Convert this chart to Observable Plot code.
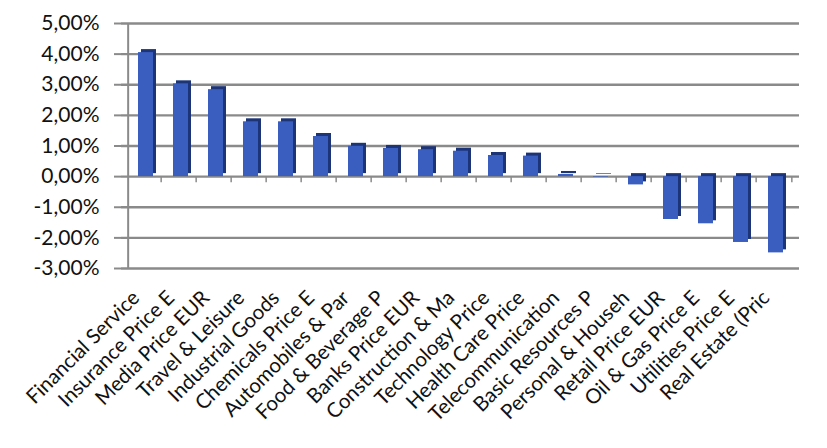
<!DOCTYPE html>
<html>
<head>
<meta charset="utf-8">
<script src="https://cdn.jsdelivr.net/npm/d3@7"></script>
<script src="https://cdn.jsdelivr.net/npm/@observablehq/plot@0.6"></script>
<style>
  html, body { margin: 0; padding: 0; background: #ffffff; }
  #chart svg { display: block; }
</style>
</head>
<body>
<div id="chart"></div>
<script>
const categories = [
  "Financial Service", "Insurance Price E", "Media Price EUR", "Travel & Leisure",
  "Industrial Goods", "Chemicals Price E", "Automobiles & Par", "Food & Beverage P",
  "Banks Price EUR", "Construction & Ma", "Technology Price", "Health Care Price",
  "Telecommunication", "Basic Resources P", "Personal & Househ", "Retail Price EUR",
  "Oil & Gas Price E", "Utilities Price E", "Real Estate (Pric"
];
const values = [
  0.0405, 0.0303, 0.0284, 0.0179, 0.0179, 0.0131, 0.0099, 0.0092,
  0.0088, 0.0083, 0.0069, 0.0067, 0.0007, -0.0002, -0.0027, -0.0140,
  -0.0154, -0.0215, -0.0249
];
const yTicks = [-0.03, -0.02, -0.01, 0, 0.01, 0.02, 0.03, 0.04, 0.05];

const data = categories.map((c, i) => ({category: c, value: values[i]}));

const W = 827, H = 448;
const mL = 121, mR = 28, mT = 23, mB = 180;
const step = (W - mL - mR) / categories.length;

const locale = d3.formatLocale({decimal: ",", thousands: ".", grouping: [3], currency: ["", "€"], percent: "%", minus: "-"});
const fmt = locale.format(".2%");

const grid = "#8a8a8a";

const chart = Plot.plot({
  width: W,
  height: H,
  marginLeft: mL,
  marginRight: mR,
  marginTop: mT,
  marginBottom: mB,
  style: {fontFamily: "Lato, sans-serif", color: "#111111", background: "#ffffff"},
  x: {domain: categories, paddingInner: 0.58, paddingOuter: 0.29},
  y: {domain: [-0.03, 0.05]},
  marks: [
    Plot.ruleY(yTicks, {stroke: grid, strokeWidth: 2.4}),
    Plot.ruleX([categories[0]], {y1: -0.03, y2: 0.05, dx: -step / 2, stroke: grid, strokeWidth: 2}),
    Plot.ruleX(categories.slice(1), {y1: 0, y2: -0.002, dx: -step / 2 - 2, stroke: grid, strokeWidth: 1.5}),
    Plot.ruleX([categories[categories.length - 1]], {y1: 0, y2: -0.002, dx: step / 2 - 2, stroke: grid, strokeWidth: 1.5}),
    Plot.barY(data, {x: "category", y: "value", fill: "#1d3577", dx: 3, dy: -3}),
    Plot.barY(data, {x: "category", y: "value", fill: "#3a5ec0"}),
    Plot.axisY(yTicks, {
      tickFormat: fmt, tickSize: 7, tickPadding: 15, stroke: grid, strokeWidth: 2,
      fontSize: 21, label: null
    }),
    Plot.axisX({
      tickSize: 0, tickRotate: -45, tickPadding: 26, dx: -10, fontSize: 20.5, label: null
    })
  ]
});

document.getElementById("chart").appendChild(chart);
</script>
</body>
</html>
